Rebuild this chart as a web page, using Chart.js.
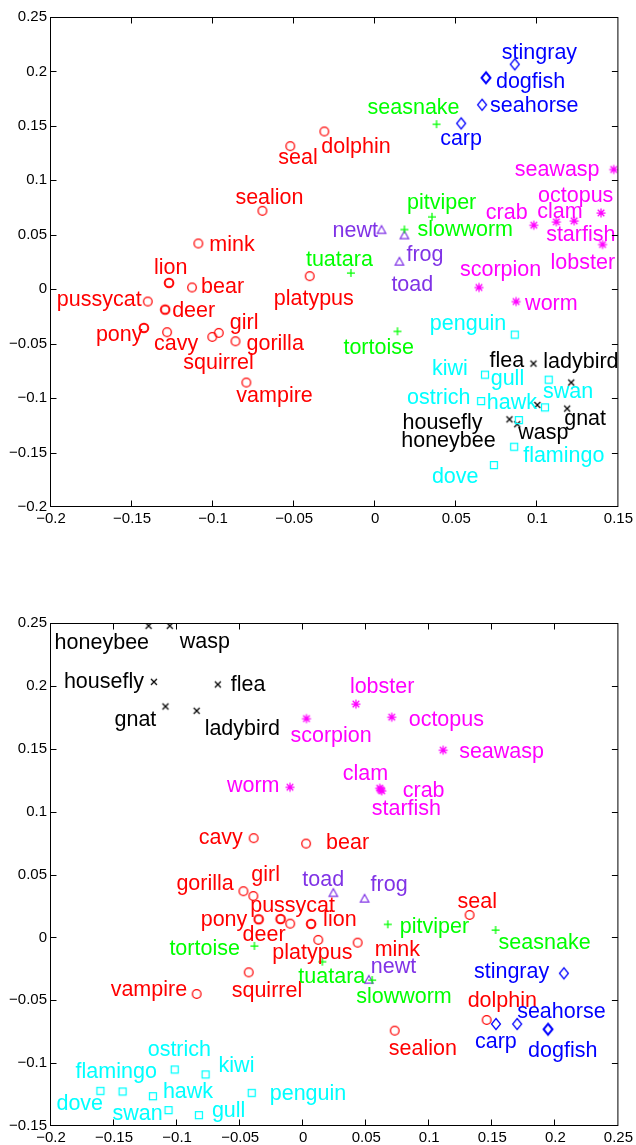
<!DOCTYPE html>
<html><head><meta charset="utf-8">
<script src="https://cdn.jsdelivr.net/npm/chart.js@4.4.1/dist/chart.umd.min.js"></script>
<style>
html,body{margin:0;padding:0;background:#fff;}
#wrap{position:relative;width:636px;height:1145px;overflow:hidden;}
canvas{position:absolute;left:0;}
</style></head><body>
<div id="wrap">
<canvas id="c1" width="636" height="530" style="top:0;width:636px;height:530px"></canvas>
<canvas id="c2" width="636" height="545" style="top:600px;width:636px;height:545px"></canvas>
</div>
<script>
// ---------------- DATA ----------------
// Group membership
const mammals = ['seal','dolphin','sealion','mink','lion','bear','pussycat','deer','pony','cavy','squirrel','girl','gorilla','vampire','platypus'];
const reptiles = ['seasnake','pitviper','slowworm','tuatara','tortoise'];
const amphibians = ['newt','frog','toad'];
const fish = ['stingray','dogfish','seahorse','carp'];
const invertebrates = ['seawasp','octopus','clam','crab','starfish','lobster','scorpion','worm'];
const birds = ['penguin','kiwi','gull','swan','ostrich','hawk','flamingo','dove'];
const insects = ['flea','ladybird','housefly','honeybee','wasp','gnat'];

// Upper plot coordinates
const mammalsX1 = [-0.0524,-0.0314,-0.0696,-0.1091,-0.1272,-0.1130,-0.1403,-0.1296,-0.1427,-0.1284,-0.1005,-0.0965,-0.0862,-0.0795,-0.0404];
const mammalsY1 = [0.1314,0.1449,0.0720,0.0420,0.0058,0.0016,-0.0113,-0.0187,-0.0355,-0.0395,-0.0438,-0.0401,-0.0478,-0.0857,0.0120];
const reptilesX1 = [0.0378,0.0350,0.0180,-0.0150,0.0137];
const reptilesY1 = [0.1516,0.0665,0.0549,0.0150,-0.0386];
const amphibiansX1 = [0.0039,0.0180,0.0149];
const amphibiansY1 = [0.0542,0.0493,0.0251];
const fishX1 = [0.0861,0.0683,0.0659,0.0530];
const fishY1 = [0.2065,0.1942,0.1694,0.1523];
const invertebratesX1 = [0.1471,0.1393,0.1117,0.0978,0.1227,0.1402,0.0640,0.0869];
const invertebratesY1 = [0.1100,0.0701,0.0619,0.0588,0.0628,0.0411,0.0016,-0.0113];
const birdsX1 = [0.0861,0.0677,0.1070,0.1047,0.0653,0.0886,0.0857,0.0732];
const birdsY1 = [-0.0416,-0.0784,-0.0830,-0.1084,-0.1026,-0.1201,-0.1446,-0.1614];
const insectsX1 = [0.0976,0.1209,0.0828,0.0876,0.1000,0.1184];
const insectsY1 = [-0.0683,-0.0857,-0.1195,-0.1240,-0.1063,-0.1096];

// Lower plot coordinates
const mammalsX2 = [0.1320,0.1455,0.0726,0.0432,0.0063,0.0023,-0.0103,-0.0179,-0.0353,-0.0393,-0.0432,-0.0395,-0.0474,-0.0845,0.0120];
const mammalsY2 = [0.0178,-0.0657,-0.0742,-0.0042,0.0107,0.0746,0.0109,0.0146,0.0144,0.0789,-0.0278,0.0329,0.0367,-0.0450,-0.0020];
const reptilesX2 = [0.1526,0.0671,0.0547,0.0152,-0.0387];
const reptilesY2 = [0.0059,0.0104,-0.0339,-0.0193,-0.0068];
const amphibiansX2 = [0.0521,0.0487,0.0239];
const amphibiansY2 = [-0.0339,0.0306,0.0351];
const fishX2 = [0.2068,0.1942,0.1697,0.1529];
const fishY2 = [-0.0286,-0.0731,-0.0689,-0.0689];
const invertebratesX2 = [0.1110,0.0702,0.0607,0.0623,0.0615,0.0418,0.0026,-0.0105];
const invertebratesY2 = [0.1489,0.1751,0.1186,0.1166,0.1174,0.1855,0.1740,0.1194];
const birdsX2 = [-0.0408,-0.0774,-0.0827,-0.1068,-0.1019,-0.1192,-0.1432,-0.1608];
const birdsY2 = [-0.1236,-0.1089,-0.1413,-0.1373,-0.1050,-0.1262,-0.1225,-0.1220];
const insectsX2 = [-0.0677,-0.0845,-0.1184,-0.1226,-0.1058,-0.1092];
const insectsY2 = [0.2011,0.1802,0.2032,0.2478,0.2478,0.1836];

// Axis ranges / ticks
const xRange1 = [-0.2, 0.15], yRange1 = [-0.2, 0.25];
const xRange2 = [-0.2, 0.25], yRange2 = [-0.15, 0.25];
const tickStep = 0.05;

// Points drawn twice in the source (appear bold)
const doubled = ['lion','deer','pony','dogfish'];

// ---------------- LABEL PLACEMENT (pixel offsets from marker to text left/baseline) ----------------
const labelOffsets1 = {
  seal:[-12,18], dolphin:[-3,22], sealion:[-27,-7], mink:[11,8], lion:[-15,-9], bear:[9,6],
  pussycat:[-91,4], deer:[7,7], pony:[-48,13], cavy:[-13,18], squirrel:[-29,32], girl:[11,-4],
  gorilla:[11,9], vampire:[-10,19], platypus:[-36,29],
  seasnake:[-69,-10], pitviper:[-25,-8], slowworm:[13,7], tuatara:[-45,-7], tortoise:[-54,23],
  newt:[-49,7], frog:[2,25], toad:[-8,29],
  stingray:[-13,-5], dogfish:[10,10], seahorse:[8,7], carp:[-21,22],
  seawasp:[-99,7], octopus:[-63,-11], clam:[-19,-4], crab:[-48,-6], starfish:[-28,20], lobster:[-52,25], scorpion:[-19,-11], worm:[9,8],
  penguin:[-85,-5], kiwi:[-53,0], gull:[-58,5], swan:[-2,-9], ostrich:[-74,3], hawk:[-32,-11], flamingo:[9,15], dove:[-62,18],
  flea:[-44,3], ladybird:[-28,-15], housefly:[-107,10], honeybee:[-116,23], wasp:[-19,34], gnat:[-3,16]
};
const labelOffsets2 = {
  seal:[-12,-7], dolphin:[-19,-13], sealion:[-6,24], mink:[17,13], lion:[12,2], bear:[20,5],
  pussycat:[-40,-12], deer:[-38,22], pony:[-58,7], cavy:[-55,6], squirrel:[-17,25], girl:[-2,-15],
  gorilla:[-67,-1], vampire:[-86,2], platypus:[-46,19],
  seasnake:[3,19], pitviper:[12,9], slowworm:[-16,23], tuatara:[-24,21], tortoise:[-85,9],
  newt:[2,-7], frog:[6,-8], toad:[-31,-7],
  stingray:[-90,5], dogfish:[-20,28], seahorse:[0,-6], carp:[-21,24],
  seawasp:[16,8], octopus:[17,9], clam:[-37,-8], crab:[21,6], starfish:[-9,25], lobster:[-6,-11], scorpion:[-16,23], worm:[-63,5],
  penguin:[18,7], kiwi:[13,-2], gull:[13,2], swan:[-56,10], ostrich:[-27,-13], hawk:[10,2], flamingo:[-47,-13], dove:[-44,19],
  flea:[13,7], ladybird:[8,24], housefly:[-90,6], honeybee:[-94,23], wasp:[10,22], gnat:[-51,20]
};

// ---------------- STYLE ----------------
const FONT = '"Liberation Sans", Arial, Helvetica, sans-serif';
const groupStyles = [
  {names: mammals, xs1: mammalsX1, ys1: mammalsY1, xs2: mammalsX2, ys2: mammalsY2, color:'#ff0000', shape:'circle'},
  {names: reptiles, xs1: reptilesX1, ys1: reptilesY1, xs2: reptilesX2, ys2: reptilesY2, color:'#00ff00', shape:'plus'},
  {names: amphibians, xs1: amphibiansX1, ys1: amphibiansY1, xs2: amphibiansX2, ys2: amphibiansY2, color:'#8033e6', shape:'triangle'},
  {names: fish, xs1: fishX1, ys1: fishY1, xs2: fishX2, ys2: fishY2, color:'#0000ff', shape:'diamond'},
  {names: invertebrates, xs1: invertebratesX1, ys1: invertebratesY1, xs2: invertebratesX2, ys2: invertebratesY2, color:'#ff00ff', shape:'star'},
  {names: birds, xs1: birdsX1, ys1: birdsY1, xs2: birdsX2, ys2: birdsY2, color:'#00ffff', shape:'square'},
  {names: insects, xs1: insectsX1, ys1: insectsY1, xs2: insectsX2, ys2: insectsY2, color:'#000000', shape:'x'}
];

function makeMarker(shape, color, lw) {
  const c = document.createElement('canvas');
  c.width = 16; c.height = 16;
  const g = c.getContext('2d');
  g.strokeStyle = color; g.lineWidth = lw; g.lineJoin = 'miter';
  const m = 8;
  g.beginPath();
  switch (shape) {
    case 'circle': g.arc(m, m, 4.3, 0, Math.PI * 2); break;
    case 'square': g.rect(m - 3.5, m - 3.5, 7, 7); break;
    case 'diamond': g.moveTo(m, m - 5.5); g.lineTo(m + 4.5, m); g.lineTo(m, m + 5.5); g.lineTo(m - 4.5, m); g.closePath(); break;
    case 'triangle': g.moveTo(m, m - 4.5); g.lineTo(m + 4.2, m + 3); g.lineTo(m - 4.2, m + 3); g.closePath(); break;
    case 'plus': g.moveTo(m - 4, m); g.lineTo(m + 4, m); g.moveTo(m, m - 4); g.lineTo(m, m + 4); break;
    case 'x': g.moveTo(m - 3, m - 3); g.lineTo(m + 3, m + 3); g.moveTo(m + 3, m - 3); g.lineTo(m - 3, m + 3); break;
    case 'star':
      g.moveTo(m, m - 4.5); g.lineTo(m, m + 4.5);
      g.moveTo(m - 4.5, m); g.lineTo(m + 4.5, m);
      g.moveTo(m - 3.3, m - 3.3); g.lineTo(m + 3.3, m + 3.3);
      g.moveTo(m + 3.3, m - 3.3); g.lineTo(m - 3.3, m + 3.3);
      break;
  }
  g.stroke();
  return c;
}

function fmt(v) {
  const r = Math.round(v * 1000) / 1000;
  if (r === 0) return '0';
  return String(r).replace('-', '\u2212');
}

const labelPlugin = {
  id: 'animalLabels',
  afterDatasetsDraw(chart, args, opts) {
    const ctx = chart.ctx;
    ctx.save();
    ctx.font = '21.5px ' + FONT;
    ctx.textAlign = 'left';
    ctx.textBaseline = 'alphabetic';
    chart.data.datasets.forEach((ds, i) => {
      const meta = chart.getDatasetMeta(i);
      ctx.fillStyle = ds.labelColor;
      meta.data.forEach((pt, j) => {
        const name = ds.names[j];
        const off = opts.offsets[name] || [6, 6];
        ctx.fillText(name, pt.x + off[0], pt.y + off[1]);
      });
    });
    ctx.restore();
  }
};

const framePlugin = {
  id: 'matlabFrame',
  afterDraw(chart) {
    const ctx = chart.ctx, a = chart.chartArea;
    const L = a.left - 0.5, R = a.right - 0.5, T = a.top + 0.5, B = a.bottom - 0.5;
    ctx.save();
    ctx.strokeStyle = '#000'; ctx.lineWidth = 1;
    ctx.strokeRect(L, T, R - L, B - T);
    const tl = 6;
    ctx.beginPath();
    const xs = chart.scales.x, ys = chart.scales.y;
    xs.ticks.forEach(t => {
      const p = Math.round(xs.getPixelForValue(t.value)) - 0.5;
      if (p <= L + 1 || p >= R - 1) return;
      ctx.moveTo(p, B); ctx.lineTo(p, B - tl);
      ctx.moveTo(p, T); ctx.lineTo(p, T + tl);
    });
    ys.ticks.forEach(t => {
      const p = Math.round(ys.getPixelForValue(t.value)) + 0.5;
      if (p <= T + 1 || p >= B - 1) return;
      ctx.moveTo(L, p); ctx.lineTo(L + tl, p);
      ctx.moveTo(R, p); ctx.lineTo(R - tl, p);
    });
    ctx.stroke();
    ctx.restore();
  }
};

function buildChart(canvasId, which, xRange, yRange, offsets, padTop, xAxisH) {
  const datasets = groupStyles.map(gs => {
    const xs = which === 1 ? gs.xs1 : gs.xs2;
    const ys = which === 1 ? gs.ys1 : gs.ys2;
    const normal = makeMarker(gs.shape, gs.color, 1.25);
    const bold = makeMarker(gs.shape, gs.color, 2);
    return {
      data: xs.map((x, k) => ({x: x, y: ys[k]})),
      names: gs.names,
      labelColor: gs.color,
      pointStyle: gs.names.map(n => doubled.includes(n) ? bold : normal),
      pointRadius: 5,
      showLine: false
    };
  });
  const tickFont = {family: FONT, size: 15};
  return new Chart(document.getElementById(canvasId), {
    type: 'scatter',
    data: {datasets},
    plugins: [labelPlugin, framePlugin],
    options: {
      responsive: false,
      animation: false,
      devicePixelRatio: 1,
      events: [],
      layout: {padding: {left: 0, right: 15, top: padTop, bottom: 0}},
      plugins: {
        legend: {display: false},
        tooltip: {enabled: false},
        animalLabels: {offsets},
      },
      scales: {
        x: {
          type: 'linear', min: xRange[0], max: xRange[1],
          grid: {display: false, drawTicks: false},
          border: {display: false},
          ticks: {stepSize: tickStep, font: tickFont, color: '#000', padding: 3, autoSkip: false, maxRotation: 0, callback: fmt},
          afterFit(s) { s.height = xAxisH; }
        },
        y: {
          type: 'linear', min: yRange[0], max: yRange[1],
          grid: {display: false, drawTicks: false},
          border: {display: false},
          ticks: {stepSize: tickStep, font: tickFont, color: '#000', padding: 4, autoSkip: false, callback: fmt},
          afterFit(s) { s.width = 51; }
        }
      }
    }
  });
}

buildChart('c1', 1, xRange1, yRange1, labelOffsets1, 17, 23);
buildChart('c2', 2, xRange2, yRange2, labelOffsets2, 23, 19);
</script>
</body></html>
